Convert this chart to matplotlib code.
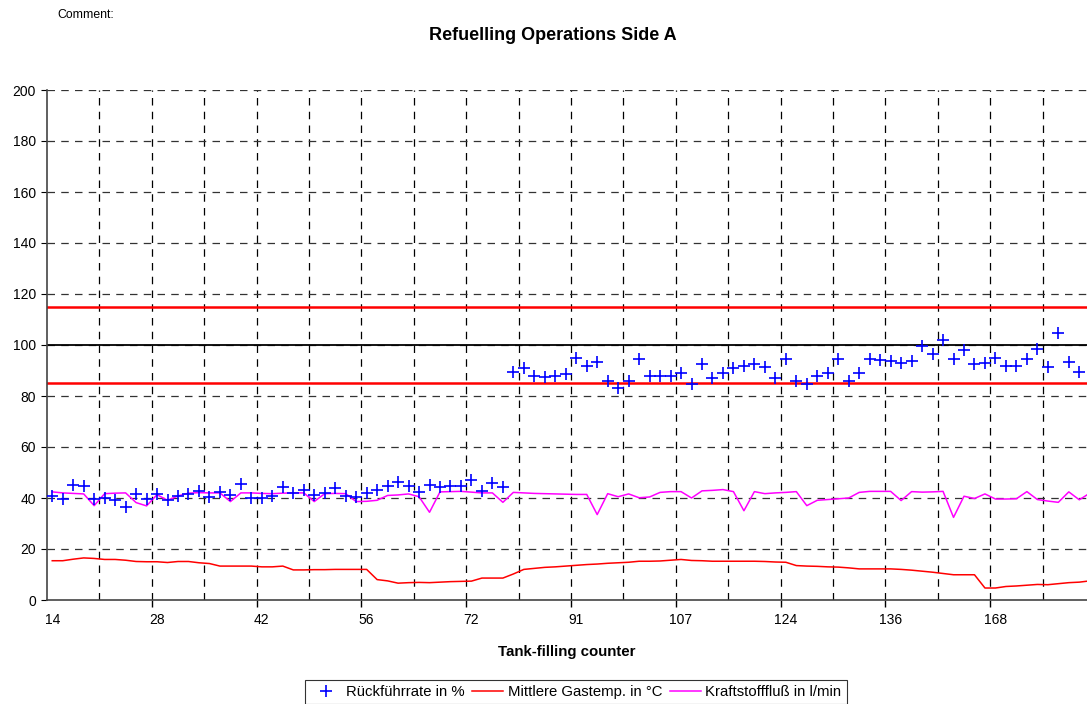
import matplotlib
matplotlib.use("Agg")
import matplotlib.pyplot as plt
from matplotlib.lines import Line2D

plt.rcParams['font.family'] = ['Liberation Sans', 'DejaVu Sans']

# Rueckfuehrrate in % (one value per tank filling)
rueckfuehr = [40.9, 39.6, 45.2, 44.6, 39.6, 40.0, 39.3, 36.5, 41.7, 39.6,
              41.7, 39.3, 40.9, 41.6, 42.6, 40.4, 42.2, 41.3, 45.6, 40.0,
              40.0, 40.9, 44.3, 42.0, 43.3, 41.3, 42.0, 43.9, 40.7, 40.4,
              42.0, 43.0, 44.6, 46.1, 44.6, 42.2, 45.2, 44.3, 44.8, 44.6,
              47.2, 42.6, 45.9, 44.3, 89.5, 91.0, 88.0, 87.5, 88.0, 88.5,
              95.0, 91.8, 93.3, 85.8, 83.0, 86.0, 94.6, 88.0, 88.0, 88.0,
              89.0, 84.7, 92.4, 87.0, 89.0, 91.1, 91.8, 92.4, 91.5, 87.0,
              94.4, 85.9, 84.7, 88.0, 89.0, 94.6, 86.0, 89.0, 94.4, 94.1,
              93.6, 92.8, 93.6, 99.6, 96.3, 101.8, 94.4, 98.0, 92.4, 92.8,
              95.0, 91.8, 91.8, 94.6, 98.3, 91.5, 104.8, 93.3, 89.4]

# Mittlere Gastemp. in C
gastemp = [15.4, 15.4, 16.0, 16.5, 16.3, 15.9, 15.9, 15.6, 15.1, 15.0,
           15.0, 14.7, 15.1, 15.1, 14.6, 14.3, 13.3, 13.3, 13.3, 13.3,
           13.0, 13.0, 13.3, 11.8, 11.8, 11.9, 11.9, 12.0, 12.0, 12.0,
           12.0, 8.0, 7.5, 6.6, 6.8, 6.9, 6.8, 7.0, 7.2, 7.3,
           7.4, 8.6, 8.6, 8.6, 10.2, 12.0, 12.4, 12.8, 13.0, 13.3,
           13.6, 13.9, 14.1, 14.4, 14.6, 14.8, 15.2, 15.2, 15.3, 15.6,
           15.9, 15.5, 15.4, 15.2, 15.2, 15.2, 15.2, 15.2, 15.1, 14.9,
           14.8, 13.5, 13.3, 13.2, 13.0, 12.9, 12.6, 12.2, 12.2, 12.2,
           12.2, 12.0, 11.7, 11.3, 10.9, 10.4, 9.9, 9.9, 9.9, 4.7,
           4.7, 5.3, 5.5, 5.8, 6.1, 6.0, 6.4, 6.8, 7.0, 7.5]

# Kraftstofffluss in l/min
kraftstoff = [42.4, 42.0, 41.8, 41.6, 37.0, 41.7, 41.9, 42.0, 38.2, 36.9,
              41.3, 39.1, 40.8, 41.9, 42.1, 42.0, 42.0, 38.6, 42.0, 42.0,
              41.8, 41.7, 41.9, 42.0, 42.0, 38.6, 41.7, 41.8, 41.7, 38.6,
              38.7, 39.1, 41.0, 41.2, 41.6, 40.5, 34.4, 42.4, 42.5, 42.6,
              42.3, 42.0, 42.0, 38.3, 42.2, 42.0, 41.8, 41.7, 41.6, 41.5,
              41.4, 41.4, 33.5, 41.7, 40.5, 41.6, 40.1, 40.4, 42.2, 42.5,
              42.5, 40.0, 42.8, 43.0, 43.3, 42.5, 35.0, 42.5, 41.7, 42.0,
              42.2, 42.5, 37.0, 39.1, 39.4, 39.7, 40.0, 42.2, 42.6, 42.6,
              42.6, 39.0, 42.5, 42.3, 42.4, 42.6, 32.4, 40.7, 39.8, 41.6,
              39.6, 39.6, 39.7, 42.5, 39.4, 38.8, 38.3, 42.4, 39.3, 41.9]

# counter labels, shown for every 10th filling
counter_labels = ['14', '28', '42', '56', '72', '91', '107', '124', '136', '168']

# limit lines
upper_limit = 115
lower_limit = 85
target = 100

fig = plt.figure(figsize=(10.87, 7.04), dpi=100)
ax = fig.add_axes([47/1087, 104/704, 1040/1087, 510/704])

n = len(gastemp)
xs = list(range(n))

# grid
for b in range(5, n, 5):
    ax.axvline(b - 0.5, color='black', lw=0.9, ls=(0, (6, 5)), zorder=1)
for v in range(20, 201, 20):
    ax.axhline(v, color='#333333', lw=0.9, ls=(0, (6, 5)), zorder=1)

ax.axhline(upper_limit, color='#ff0000', lw=1.8, zorder=2)
ax.axhline(lower_limit, color='#ff0000', lw=1.8, zorder=2)
ax.axhline(target, color='black', lw=1.3, zorder=2)

ax.plot(xs, kraftstoff, color='#ff00ff', lw=1.1, zorder=3)
ax.plot(xs, gastemp, color='#ff0000', lw=1.1, zorder=3)
ax.plot(range(len(rueckfuehr)), rueckfuehr, ls='none', marker='+',
        color='#0000ff', ms=9, mew=1.2, zorder=4)

ax.set_xlim(-0.5, -0.5 + 1040/10.48)
ax.set_ylim(0, 200)

ax.set_xticks(range(0, 10*len(counter_labels), 10), counter_labels)
ax.set_xticks([b - 0.5 for b in range(10, n, 10)], minor=True)
ax.tick_params(axis='x', which='major', length=0, pad=9, labelsize=10)
ax.tick_params(axis='x', which='minor', length=5, direction='out', width=1)
ax.set_yticks(range(0, 201, 20))
ax.tick_params(axis='y', length=4, direction='out', labelsize=10, pad=4)

for s in ['top', 'right']:
    ax.spines[s].set_visible(False)
ax.spines['left'].set_color('#444444')
ax.spines['bottom'].set_color('#444444')
ax.spines['left'].set_linewidth(1.2)
ax.spines['bottom'].set_linewidth(1.2)

ax.set_xlabel('Tank-filling counter', fontsize=10.8, fontweight='bold', labelpad=13)

fig.text(553/1087, 1 - 35/704, 'Refuelling Operations Side A', ha='center',
         va='center', fontsize=13, fontweight='bold')
fig.text(57/1087, 1 - 15/704, 'Comment:', ha='left', va='center', fontsize=8.8)

handles = [Line2D([], [], ls='none', marker='+', color='#0000ff', ms=9, mew=1.2),
           Line2D([], [], color='#ff0000', lw=1.1),
           Line2D([], [], color='#ff00ff', lw=1.1)]
names = ['Rückführrate in %', 'Mittlere Gastemp. in °C', 'Kraftstofffluß in l/min']
leg = fig.legend(handles, names, loc='upper center', ncol=3,
                 bbox_to_anchor=(576/1087, 1 - 680/704), fontsize=10.7,
                 frameon=True, fancybox=False, edgecolor='black',
                 handlelength=2.1, handletextpad=0.3, columnspacing=0.5,
                 borderpad=0.35, borderaxespad=0)
leg.get_frame().set_linewidth(0.8)

fig.savefig('out.png', dpi=100)
